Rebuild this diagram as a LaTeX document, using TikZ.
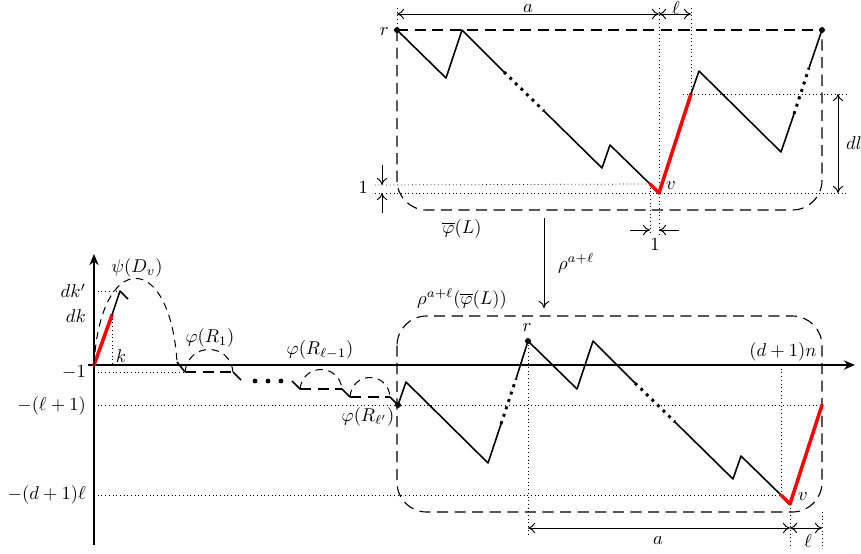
\documentclass[tikz,border=0pt]{standalone}
\usepackage{amsmath,amssymb}
\usepackage{tikz}
\usepackage[dvipsnames]{xcolor}
\usetikzlibrary{arrows.meta}

\begin{document}
\begin{tikzpicture}[x=0.54pt,y=-0.54pt,
  >={To[length=3.8pt,width=5.6pt]},
  latpath/.style={line width=0.85pt,line join=round},
  redpath/.style={draw=red,line width=1.9pt,line join=round,line cap=round},
  dotpath/.style={line width=1.6pt,dash pattern=on 1.6pt off 2.6pt},
  guide/.style={line width=0.4pt,dash pattern=on 0.4pt off 1.6pt},
  frame/.style={line width=0.6pt,dash pattern=on 6pt off 3.5pt},
  arcdash/.style={line width=0.55pt,dash pattern=on 4pt off 3pt},
  dimarrow/.style={line width=0.5pt},
  axisline/.style={line width=1.3pt,-{Stealth[length=6pt,width=5pt]}},
  vtx/.style={circle,fill,inner sep=0pt,minimum size=3.2pt},
  lbl/.style={inner sep=1pt}]
\definecolor{fillColor}{RGB}{255,255,255}
\path[use as bounding box,fill=fillColor] (0,0) rectangle (861,554);

\coordinate (r1) at (397,30);
\coordinate (p1) at (446,78);
\coordinate (p2) at (462,30);
\coordinate (p3) at (504,72);
\coordinate (p4) at (544,111);
\coordinate (p5) at (602,168);
\coordinate (p6) at (610,145);
\coordinate (p7) at (650,184);
\coordinate (v1) at (659,193);
\coordinate (p8) at (691,94);
\coordinate (p9) at (699,71);
\coordinate (p10) at (781,152);
\coordinate (p11) at (794,114);
\coordinate (p12) at (809,68);
\coordinate (q1) at (822,30);

\draw[frame] (r1) -- (q1);
\draw[frame,rounded corners=16] (r1) -- (397,210) -- (822,210) -- (q1);

\draw[guide] (397,8) -- (r1);
\draw[guide] (659,8) -- (659,234);
\draw[guide] (691,8) -- (p8);
\draw[guide] (p7) -- (650,234);
\draw[guide] (375,185) -- (p7);
\draw[guide] (375,193) -- (846,193);
\draw[guide] (683,94) -- (846,94);

\draw[latpath] (r1) -- (p1) -- (p2) -- (p3);
\draw[dotpath] (p3) -- (p4);
\draw[latpath] (p4) -- (p5) -- (p6) -- (p7);
\draw[redpath] (p7) -- (v1) -- (p8);
\draw[latpath] (p8) -- (p9) -- (p10) -- (p11);
\draw[dotpath] (p11) -- (p12);
\draw[latpath] (p12) -- (q1);
\node[vtx] at (r1) {};
\node[vtx] at (q1) {};
\node[lbl,anchor=east] (rtop) at (391,32) {$r$};
\node[lbl,anchor=west] (vtop) at (664,186) {$v$};

\draw[dimarrow,<->] (397,14) -- (659,14);
\draw[dimarrow,<->] (659,14) -- (691,14);
\node[inner sep=0pt] (atop) at (528,9) {$a$};
\node[inner sep=0pt] (ltop) at (676,8) {$\ell$};
\draw[dimarrow,->] (382,165) -- (382,185);
\draw[dimarrow,->] (382,213) -- (382,193);
\node[lbl,anchor=east] (onev) at (370,188) {$1$};
\draw[dimarrow,->] (630,230) -- (650,230);
\draw[dimarrow,->] (679,230) -- (659,230);
\node[lbl] (oneh) at (655,245) {$1$};
\draw[dimarrow,<->] (838,94) -- (838,193);
\node[lbl,anchor=west] (dl) at (844,143) {$dl$};
\node[lbl] (phiL) at (462,229) {$\overline{\varphi}(L)$};

\draw[dimarrow,->] (544,218) -- node[right=4pt] {$\rho^{a+\ell}$} (544,308);

\node[lbl] (rhoL) at (462,299) {$\rho^{a+\ell}(\overline{\varphi}(L))$};
\draw[frame,rounded corners=16] (397,316) rectangle (822,512);

\coordinate (o) at (94,365);
\coordinate (k1) at (112,315);
\coordinate (k2) at (120,291);
\coordinate (k3) at (128,299);
\coordinate (b0) at (177,362);
\coordinate (b1) at (185,372);
\coordinate (b2) at (233,372);
\coordinate (b3) at (241,380);
\coordinate (c0) at (292,381);
\coordinate (c1) at (300,389);
\coordinate (c2) at (342,389);
\coordinate (c3) at (350,397);
\coordinate (c4) at (390,397);
\coordinate (lp) at (398,405);
\coordinate (d1) at (406,382);
\coordinate (d2) at (488,463);
\coordinate (d3) at (501,424);
\coordinate (d4) at (516,379);
\coordinate (r2) at (528,341);
\coordinate (d5) at (577,389);
\coordinate (d6) at (593,341);
\coordinate (d7) at (635,383);
\coordinate (d8) at (675,422);
\coordinate (d9) at (733,479);
\coordinate (d10) at (741,456);
\coordinate (d11) at (781,495);
\coordinate (v2) at (790,504);
\coordinate (e1) at (822,405);

\draw[guide] (94,291) -- (k2);
\draw[guide] (k1) -- (112,365);
\draw[guide] (94,372) -- (b1);
\draw[guide] (94,405) -- (e1);
\draw[guide] (94,495) -- (d11);
\draw[guide] (781,365) -- (d11);
\draw[guide] (r2) -- (528,534);
\draw[guide] (v2) -- (790,548);
\draw[guide] (822,512) -- (822,548);

\draw[axisline] (94,545) -- (94,254);
\draw[axisline] (88,365) -- (855,365);

\node[lbl,anchor=east] at (88,291) {$dk'$};
\node[lbl,anchor=east] at (88,316) {$dk$};
\node[lbl,anchor=east] at (88,372) {$-1$};
\node[lbl,anchor=east] at (88,406) {$-(\ell+1)$};
\node[lbl,anchor=east] at (88,495) {$-(d+1)\ell$};
\node[lbl] (klbl) at (121,356) {$k$};
\node[lbl] (nlbl) at (783,352) {$(d+1)n$};

\draw[redpath] (o) -- (k1);
\draw[latpath] (k1) -- (k2) -- (k3);
\draw[arcdash] (o) .. controls (100,250) and (170,250) .. (b0);
\node[lbl] (psi) at (137,268) {$\psi(D_v)$};

\draw[latpath] (b0) -- (b1);
\draw[frame] (b1) -- (b2);
\draw[arcdash] (b1) .. controls (188,342) and (230,342) .. (b2);
\draw[latpath] (b2) -- (b3);
\node[lbl] (phiR1) at (210,338) {$\varphi(R_1)$};
\foreach \xd in {255,268,281}
  \fill (\xd,381) circle (1.3pt);
\draw[latpath] (c0) -- (c1);
\draw[frame] (c1) -- (c2);
\draw[arcdash] (c1) .. controls (303,363) and (339,363) .. (c2);
\draw[latpath] (c2) -- (c3);
\draw[frame] (c3) -- (c4);
\draw[arcdash] (c3) .. controls (352,371) and (388,371) .. (c4);
\draw[latpath] (c4) -- (lp);
\node[lbl] (phiRl) at (320,350) {$\varphi(R_{\ell-1})$};
\node[lbl] (phiRlp) at (368,417) {$\varphi(R_{\ell'})$};

\draw[latpath] (lp) -- (d1) -- (d2) -- (d3);
\draw[dotpath] (d3) -- (d4);
\draw[latpath] (d4) -- (r2) -- (d5) -- (d6) -- (d7);
\draw[dotpath] (d7) -- (d8);
\draw[latpath] (d8) -- (d9) -- (d10) -- (d11);
\draw[redpath] (d11) -- (v2) -- (e1);
\node[vtx] at (lp) {};
\node[vtx] at (r2) {};
\node[lbl] (rbot) at (527,328) {$r$};
\node[lbl,anchor=west] (vbot) at (796,497) {$v$};

\draw[dimarrow,<->] (528,528) -- (790,528);
\draw[dimarrow,<->] (790,528) -- (822,528);
\node[lbl] (abot) at (658,541) {$a$};
\node[lbl] (lbot) at (808,541) {$\ell$};
\end{tikzpicture}
\end{document}
